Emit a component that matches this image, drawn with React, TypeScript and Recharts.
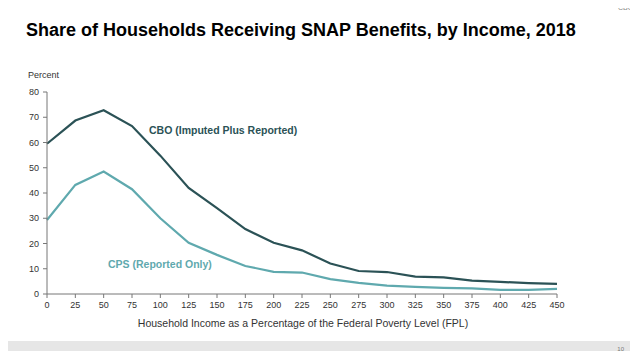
import React from 'react';
import { LineChart, Line, XAxis, YAxis } from 'recharts';

// Household income as % of FPL
const incomeLevels = [0, 25, 50, 75, 100, 125, 150, 175, 200, 225, 250, 275, 300, 325, 350, 375, 400, 425, 450];
// CBO (imputed plus reported), percent
const cboShare = [59.5, 68.7, 72.8, 66.5, 54.8, 42, 34, 25.7, 20.3, 17.3, 12.1, 9.1, 8.7, 6.9, 6.6, 5.3, 4.8, 4.3, 4.0];
// CPS (reported only), percent
const cpsShare = [29.3, 43.2, 48.5, 41.5, 30, 20.3, 15.5, 11.1, 8.8, 8.5, 5.9, 4.4, 3.3, 2.8, 2.4, 2.2, 1.6, 1.6, 2.0];
const xTicks = [0, 25, 50, 75, 100, 125, 150, 175, 200, 225, 250, 275, 300, 325, 350, 375, 400, 425, 450];
const yTicks = [0, 10, 20, 30, 40, 50, 60, 70, 80];

const data = incomeLevels.map((x, i) => ({ x, cbo: cboShare[i], cps: cpsShare[i] }));

const FONT = '"Liberation Sans", Arial, sans-serif';
const DARK = '#2b5256';
const LIGHT = '#5fa9ae';

const App: React.FC = () => {
  return (
    <div style={{ position: 'relative', width: 638, height: 359, margin: -8, background: '#fff', fontFamily: FONT, overflow: 'hidden' }}>
      <div style={{ position: 'absolute', left: 618, top: 4, fontSize: 7, color: '#888' }}>CBO</div>
      <div
        style={{
          position: 'absolute',
          left: 26,
          top: 20,
          fontSize: 18,
          fontWeight: 'bold',
          color: '#000',
          whiteSpace: 'nowrap',
        }}
      >
        Share of Households Receiving SNAP Benefits, by Income, 2018
      </div>
      <div style={{ position: 'absolute', left: 28, top: 70, fontSize: 9, color: '#333' }}>Percent</div>

      <div style={{ position: 'absolute', left: 0, top: 0 }}>
        <LineChart width={638} height={359} data={data} margin={{ top: 92, right: 81, left: 0, bottom: 35 }}>
          <XAxis
            dataKey="x"
            type="number"
            domain={[0, 450]}
            ticks={xTicks}
            height={30}
            tickSize={4}
            tickMargin={4}
            stroke="#777"
            tick={{ fill: '#333', fontSize: 9, fontFamily: FONT }}
          />
          <YAxis
            type="number"
            domain={[0, 80]}
            ticks={yTicks}
            width={47}
            tickSize={4}
            tickMargin={4}
            stroke="#777"
            tick={{ fill: '#333', fontSize: 9, fontFamily: FONT }}
          />
          <Line dataKey="cbo" type="linear" stroke={DARK} strokeWidth={2.2} dot={false} isAnimationActive={false} />
          <Line dataKey="cps" type="linear" stroke={LIGHT} strokeWidth={2.2} dot={false} isAnimationActive={false} />
        </LineChart>
      </div>

      <div style={{ position: 'absolute', left: 149, top: 124, fontSize: 10.5, fontWeight: 'bold', color: DARK, whiteSpace: 'nowrap' }}>
        CBO (Imputed Plus Reported)
      </div>
      <div style={{ position: 'absolute', left: 108, top: 258, fontSize: 10.5, fontWeight: 'bold', color: LIGHT, whiteSpace: 'nowrap' }}>
        CPS (Reported Only)
      </div>
      <div style={{ position: 'absolute', left: 0, width: 606, textAlign: 'center', top: 317, fontSize: 10.5, color: '#333' }}>
        Household Income as a Percentage of the Federal Poverty Level (FPL)
      </div>

      <div style={{ position: 'absolute', left: 0, top: 341, width: 638, height: 18, background: '#e6e6e6' }} />
      <div style={{ position: 'absolute', right: 14, top: 346, fontSize: 6, color: '#777' }}>10</div>
    </div>
  );
};

export default App;
